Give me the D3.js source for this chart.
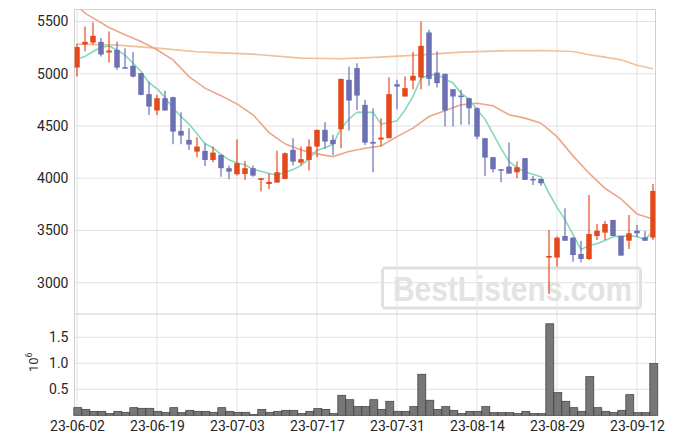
<!DOCTYPE html>
<html><head><meta charset="utf-8">
<script src="https://cdn.jsdelivr.net/npm/d3@7"></script>
<style>
body{margin:0;background:#fff}
svg{display:block}
text{font-family:Roboto,"Noto Sans",sans-serif}
</style>
</head><body>
<svg id="chart" width="675" height="444"></svg>
<script>
// ---- data ----
const dates = ["2023-06-02","2023-06-05","2023-06-07","2023-06-08","2023-06-09","2023-06-12","2023-06-13","2023-06-14","2023-06-15","2023-06-16",
"2023-06-19","2023-06-20","2023-06-21","2023-06-22","2023-06-23","2023-06-26","2023-06-27","2023-06-28","2023-06-29","2023-06-30",
"2023-07-03","2023-07-04","2023-07-05","2023-07-06","2023-07-07","2023-07-10","2023-07-11","2023-07-12","2023-07-13","2023-07-14",
"2023-07-17","2023-07-18","2023-07-19","2023-07-20","2023-07-21","2023-07-24","2023-07-25","2023-07-26","2023-07-27","2023-07-28",
"2023-07-31","2023-08-01","2023-08-02","2023-08-03","2023-08-04","2023-08-07","2023-08-08","2023-08-09","2023-08-10","2023-08-11",
"2023-08-14","2023-08-16","2023-08-17","2023-08-18","2023-08-21","2023-08-22","2023-08-23","2023-08-24","2023-08-25","2023-08-28",
"2023-08-29","2023-08-30","2023-08-31","2023-09-01","2023-09-04","2023-09-05","2023-09-06","2023-09-07","2023-09-08","2023-09-11",
"2023-09-12","2023-09-13","2023-09-14"];

const open = [5059,5280,5299,5305,5203,5229,5062,5076,5006,4805, 4648,4766,4776,4453,4367,4255,4262,4175,4223,4096,
4038,4041,4096,3984,3945,3958,3993,4271,4149,4175, 4303,4463,4367,4469,4942,5054,4702,4348,4370,4383,
4900,4782,4935,4964,5395,5011,4999,4852,4791,4766, 4670,4383,4201,4086,4111,4057,4192,3993,3993,3240,
3240,3447,3431,3275,3227,3447,3479,3601,3447,3402, 3498,3435,3431];
const high = [5286,5452,5490,5341,5404,5309,5245,5207,5010,4925, 4798,4836,4780,4632,4479,4393,4335,4303,4230,4121,
4374,4166,4121,4000,4048,4264,4245,4383,4303,4374, 4463,4536,4415,4951,5069,5101,4750,4670,4575,4967,
4942,4973,5207,5500,5420,5213,4999,4855,4846,4770, 4680,4385,4205,4086,4341,4159,4192,4022,3995,3505,
3441,3713,3435,3402,3840,3562,3591,3601,3447,3648, 3553,3495,3945];
const low = [4973,5213,5277,5165,5107,5037,5058,4964,4795,4606, 4606,4648,4326,4326,4271,4201,4118,4153,4015,3990,
4025,3984,4015,3872,3898,3958,3990,4121,4127,4073, 4201,4281,4223,4287,4456,4654,4319,4057,4303,4383,
4661,4782,4852,4852,4884,4868,4494,4494,4511,4511, 4374,4022,4054,3962,4044,4000,3984,3936,3929,2892,
3153,3400,3201,3195,3217,3409,3409,3447,3259,3323, 3435,3400,3409];
const close = [5255,5305,5363,5184,5222,5059,5060,4973,4798,4686, 4766,4648,4446,4408,4322,4303,4175,4245,4096,4063,
4144,4096,4025,4000,3965,4057,4239,4159,4182,4303, 4463,4351,4326,4951,4743,4791,4341,4331,4389,4805,
4877,4862,4980,5267,4951,4910,4648,4782,4782,4670, 4398,4197,4086,4080,4044,4105,3984,3981,3952,3256,
3431,3402,3265,3227,3466,3498,3562,3447,3259,3473, 3473,3402,3878];
const volume = [147000,115000,77000,77000,32000,77000,58000,147000,135000,135000, 77000,51000,147000,51000,96000,77000,77000,58000,147000,77000,
58000,58000,13000,115000,58000,77000,96000,96000,32000,77000, 128000,115000,32000,385000,300000,167000,167000,300000,115000,270000,
77000,77000,167000,790000,290000,115000,167000,96000,32000,77000, 77000,167000,51000,51000,51000,32000,77000,32000,32000,1760000,
436000,270000,147000,77000,744000,147000,77000,51000,96000,397000, 51000,51000,994000];

const ma5 = [5140,5165,5213,5251,5266,5227,5178,5100,5022,4915, 4857,4774,4669,4591,4518,4425,4331,4291,4228,4176,
4145,4129,4085,4066,4046,4029,4057,4084,4120,4188, 4269,4292,4325,4479,4567,4632,4630,4631,4519,4531,
4549,4653,4783,4958,4987,4994,4951,4912,4815,4758, 4656,4566,4427,4286,4161,4102,4060,4039,4013,3856,
3721,3604,3461,3316,3358,3372,3404,3440,3446,3448, 3443,3411,3497];
const ma20 = [[0,5650],[1,5580],[2,5535],[4,5443],[6,5373],[8,5308],[10,5229],[12,5133],[14,4973],[16,4862],[18,4790],
[20,4712],[22,4607],[24,4437],[26,4329],[28,4271],[30,4233],[32,4207],[34,4255],[36,4287],[38,4309],[40,4398],
[42,4479],[44,4590],[46,4645],[48,4702],[50,4718],[52,4693],[54,4607],[56,4575],[58,4527],[60,4398],[62,4214],
[64,4048],[66,3904],[68,3802],[70,3658],[72,3610]];
const ma60 = [[0,5283],[5,5274],[10,5245],[15,5210],[18,5200],[22,5188],[28,5149],[33,5143],[38,5159],[43,5181],
[48,5207],[53,5219],[58,5222],[62,5213],[64,5181],[66,5159],[68,5133],[70,5082],[72,5047]];

const priceTicks = [3000,3500,4000,4500,5000,5500];
const volTicks = [500000,1000000,1500000];
const dateTickIdx = [0,10,20,30,40,50,60,70];

// ---- layout ----
const L = 74.5, R = 655.5, T = 9.5, MID = 314, B = 415.3;
const svg = d3.select("#chart");
const x = d3.scaleLinear().domain([0,72]).range([77,653]);
const y = d3.scaleLinear().domain([3000,5500]).range([282.7,21.5]);
const yv = d3.scaleLinear().domain([0,1500000]).range([B,337.3]);

const gridC = "#e2e2e2";
const upC = "#e4491c", dnC = "#6b70b4";

svg.append("defs").append("clipPath").attr("id","clipMain")
  .append("rect").attr("x",L).attr("y",T).attr("width",R-L).attr("height",MID-T);

// grid
const grid = svg.append("g").attr("stroke",gridC).attr("stroke-width",1);
grid.selectAll("line.h").data(priceTicks).join("line")
  .attr("x1",L).attr("x2",R).attr("y1",d=>y(d)).attr("y2",d=>y(d));
grid.selectAll("line.v").data(volTicks).join("line").attr("class","v2")
  .attr("x1",L).attr("x2",R).attr("y1",d=>yv(d)).attr("y2",d=>yv(d));
grid.selectAll("line.x").data(dateTickIdx).join("line").attr("class","x")
  .attr("x1",d=>x(d)).attr("x2",d=>x(d)).attr("y1",T).attr("y2",B);

// frame
const frame = svg.append("g").attr("stroke","#d0d0d0").attr("stroke-width",1).attr("fill","none");
frame.append("line").attr("x1",L).attr("x2",R).attr("y1",T).attr("y2",T);
frame.append("line").attr("x1",R).attr("x2",R).attr("y1",T).attr("y2",B);
frame.append("line").attr("x1",L).attr("x2",R).attr("y1",MID).attr("y2",MID);
frame.append("line").attr("x1",L).attr("x2",L).attr("y1",T).attr("y2",B);
frame.append("line").attr("x1",L).attr("x2",R).attr("y1",B).attr("y2",B);

// watermark
const wm = svg.append("g");
wm.append("rect").attr("x",382.5).attr("y",268).attr("width",258).attr("height",40).attr("rx",3)
  .attr("fill","none").attr("stroke","#e0e0e0").attr("stroke-width",3);
wm.append("text").attr("x",393).attr("y",301).text("BestListens.com")
  .style("font-family","'Liberation Sans',Arial,sans-serif").style("font-weight","bold")
  .style("font-size","35px").attr("textLength",239).attr("lengthAdjust","spacingAndGlyphs")
  .attr("fill","#e3e3e3");

// main plot
const main = svg.append("g").attr("clip-path","url(#clipMain)");
const line = d3.line().x(d=>x(d[0])).y(d=>y(d[1]));
main.append("path").datum(ma60).attr("d",line).attr("fill","none").attr("stroke","#f1bf98").attr("stroke-width",1.6);
main.append("path").datum(ma20).attr("d",line).attr("fill","none").attr("stroke","#eea68a").attr("stroke-width",1.6);
main.append("path").datum(ma5.map((v,i)=>[i,v])).attr("d",line).attr("fill","none").attr("stroke","#86d8bd").attr("stroke-width",1.6);

const idx = d3.range(dates.length);
const cg = main.append("g");
cg.selectAll("line.w").data(idx).join("line")
  .attr("x1",i=>x(i)).attr("x2",i=>x(i)).attr("y1",i=>y(high[i])).attr("y2",i=>y(low[i]))
  .attr("stroke",i=>close[i]>=open[i]?upC:dnC).attr("stroke-width",1.2);
const bw = 5.5;
cg.selectAll("rect.b").data(idx).join("rect")
  .attr("x",i=>x(i)-bw/2).attr("width",bw)
  .attr("y",i=>y(Math.max(open[i],close[i])))
  .attr("height",i=>Math.max(1.5,Math.abs(y(open[i])-y(close[i]))))
  .attr("fill",i=>close[i]>=open[i]?upC:dnC);

// volume
svg.append("g").selectAll("rect").data(idx).join("rect")
  .attr("x",i=>x(i)-4+0.8).attr("width",8).attr("y",i=>yv(volume[i])).attr("height",i=>B-yv(volume[i]))
  .attr("fill","#777").attr("stroke","#3d3d3d").attr("stroke-width",0.7);

// axes
const yAxis = svg.append("g").attr("transform",`translate(${L},0)`)
  .call(d3.axisLeft(y).tickValues(priceTicks).tickSize(0).tickPadding(6).tickFormat(d3.format("d")));
const vAxis = svg.append("g").attr("transform",`translate(${L},0)`)
  .call(d3.axisLeft(yv).tickValues(volTicks).tickSize(0).tickPadding(6).tickFormat(d=>d3.format(".1f")(d/1e6)));
const xAxis = svg.append("g").attr("transform",`translate(0,${B})`)
  .call(d3.axisBottom(x).tickValues(dateTickIdx).tickSize(0).tickPadding(6).tickFormat(i=>dates[i].slice(2)));
[yAxis,vAxis,xAxis].forEach(g=>{
  g.select(".domain").remove();
  g.selectAll("text").style("font-size","14px").style("font-family","Roboto,sans-serif").attr("fill","#262626");
});

// 10^6 label
const ex = svg.append("text").attr("transform","translate(38.3,372) rotate(-90)")
  .attr("fill","#333").style("font-size","13px");
ex.append("tspan").text("10");
ex.append("tspan").text("6").style("font-size","9px").attr("dy",-6);
</script>
</body></html>
